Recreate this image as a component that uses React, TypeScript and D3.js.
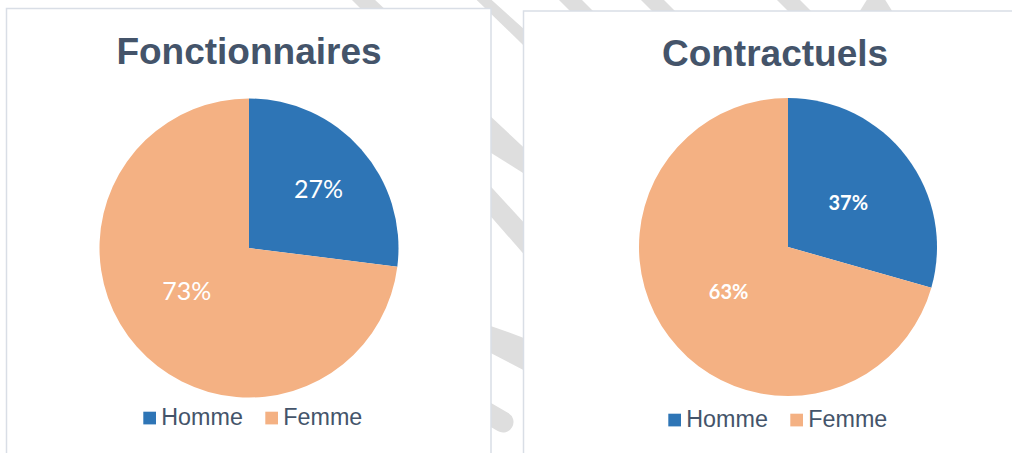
import React from 'react'
import * as d3 from 'd3'

const width = 1012
const height = 453

const categories = ["Homme", "Femme"]
const colors = ["#2E75B6", "#F4B183"]
const titles = ["Fonctionnaires", "Contractuels"]

// slice sizes as drawn in the picture
const fonctionnaires = [27, 73]
const contractuels = [29.4, 70.6]
// labels as printed on the slices
const fonctionnairesLabels = ["27%", "73%"]
const contractuelsLabels = ["37%", "63%"]

const series = [fonctionnaires, contractuels]
const seriesLabels = [fonctionnairesLabels, contractuelsLabels]

const panels = [
  { x: 6.5, y: 8.5, w: 484.5, cx: 249, cy: 248, r: 149.5, titleX: 249, titleY: 64, legendX: 143.3, legendY: 425, labelR: [0.61, 0.506], labelTurn: [0.02, 0.12], labelSize: 25, labelWeight: 400 },
  { x: 523.5, y: 11, w: 520, cx: 788, cy: 247, r: 149, titleX: 775, titleY: 65.5, legendX: 668.3, legendY: 427, labelR: [0.5, 0.5], labelTurn: [0.02, 0], labelSize: 20, labelWeight: 700 },
]

// background watermark pieces (decoration only)
const watermark = [
  "M350,-2 L373,-2 L390,14 L366,14 Z",
  "M489,-2.4 L530,34.5 L530,51.7 L474,-2.6 Z",
  "M557,-2 L580,-2 L596,14 L573,14 Z",
  "M639,-2 L662,-2 L678,14 L655,14 Z",
  "M775,-2 L798,-2 L814,14 L791,14 Z",
  "M868,-2 L884,-2 L894,14 L858,14 Z",
  "M480,106.4 L535,158 L535,180.5 L480,146.1 Z",
  "M480,174.7 L535,234.8 L535,267 L480,204.1 Z",
  "M480,322.7 Q508,331 535,342.6 L535,376.2 Q508,362 480,347.6 Z",
]

const pie = d3.pie<number>().sort(null).value(d => d)

const Chart = ({ i }: { i: number }) => {
  const p = panels[i]
  const arcs = pie(series[i])
  const arc = d3.arc<d3.PieArcDatum<number>>().innerRadius(0).outerRadius(p.r)
  return (
    <g>
      <rect x={p.x} y={p.y} width={p.w} height={500} fill="#fff" stroke="#D9DEE6" strokeWidth={1.5} />
      <text x={p.titleX} y={p.titleY} textAnchor="middle" fontFamily="'Liberation Sans', Arial, sans-serif" fontWeight={700} fontSize={37} fill="#44546A">{titles[i]}</text>
      <g transform={`translate(${p.cx},${p.cy})`}>
        {arcs.map((a, j) => (
          <path key={j} d={arc(a) || ""} fill={colors[j]} />
        ))}
        {arcs.map((a, j) => {
          const lr = p.r * p.labelR[j]
          const ang = (a.startAngle + a.endAngle) / 2 + p.labelTurn[j]
          const lx = lr * Math.sin(ang)
          const ly = -lr * Math.cos(ang)
          return (
            <text key={j} x={lx} y={ly} dy="0.36em" textAnchor="middle" fontFamily="Lato, 'Open Sans', sans-serif" fontWeight={p.labelWeight} fontSize={p.labelSize} fill="#fff">{seriesLabels[i][j]}</text>
          )
        })}
      </g>
      {categories.map((c, j) => {
        const lx = p.legendX + j * 122
        return (
          <g key={c}>
            <rect x={lx} y={p.legendY - 13.3} width={12.7} height={12.7} fill={colors[j]} />
            <text x={lx + 18} y={p.legendY} fontFamily="'Liberation Sans', Arial, sans-serif" fontSize={23.3} fill="#44546A">{c}</text>
          </g>
        )
      })}
    </g>
  )
}

export default function App() {
  return (
    <svg width={width} height={height} style={{ position: "absolute", left: 0, top: 0, background: "#fff" }}>
      <g fill="#DEDEDE">
        {watermark.map((d, k) => <path key={k} d={d} />)}
        <line x1={460} y1={397} x2={503} y2={422} stroke="#DEDEDE" strokeWidth={21} strokeLinecap="round" />
      </g>
      <Chart i={0} />
      <Chart i={1} />
    </svg>
  )
}
